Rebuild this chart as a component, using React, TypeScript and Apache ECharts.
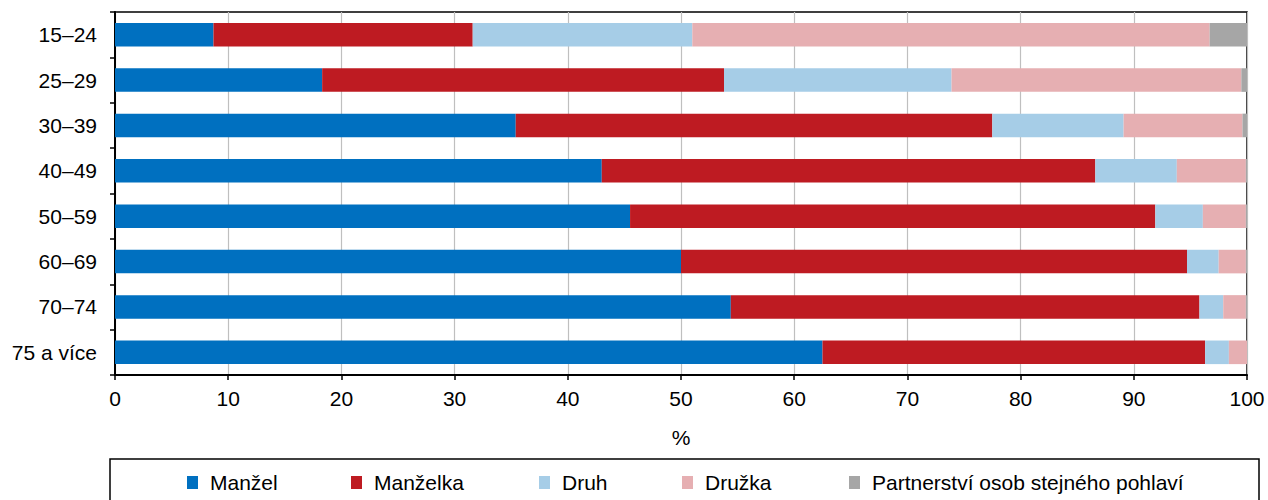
import React, { useEffect, useRef } from "react";
import * as echarts from "echarts";

const categories = ["15–24", "25–29", "30–39", "40–49", "50–59", "60–69", "70–74", "75 a více"];
const seriesNames = ["Manžel", "Manželka", "Druh", "Družka", "Partnerství osob stejného pohlaví"];
const manzel = [8.7, 18.3, 35.4, 43.0, 45.5, 50.0, 54.4, 62.5];
const manzelka = [22.9, 35.5, 42.1, 43.6, 46.4, 44.7, 41.4, 33.8];
const druh = [19.4, 20.1, 11.6, 7.2, 4.2, 2.8, 2.1, 2.1];
const druzka = [45.7, 25.6, 10.5, 6.1, 3.8, 2.4, 2.0, 1.6];
const partnerstvi = [3.3, 0.5, 0.4, 0.1, 0.1, 0.1, 0.1, 0.0];
const xTicks = [0, 10, 20, 30, 40, 50, 60, 70, 80, 90, 100];
const colors = ["#0070C0", "#BE1B22", "#A6CDE7", "#E6AFB2", "#A6A6A6"];
const legendLefts = [187, 351, 539, 682, 849];

const FONT = "'Liberation Sans', Arial, sans-serif";
const FS = 21;

export default function App() {
  const ref = useRef<HTMLDivElement>(null);
  useEffect(() => {
    if (!ref.current) return;
    const chart = echarts.init(ref.current, undefined, { renderer: "svg" });
    const values = [manzel, manzelka, druh, druzka, partnerstvi];
    chart.setOption({
      animation: false,
      textStyle: { fontFamily: FONT },
      grid: {
        left: 115,
        right: 21,
        top: 12,
        bottom: 125,
        show: true,
        borderColor: "#000",
        borderWidth: 1.5,
        backgroundColor: "transparent",
      },
      xAxis: {
        type: "value",
        min: xTicks[0],
        max: xTicks[xTicks.length - 1],
        interval: 10,
        name: "%",
        nameLocation: "middle",
        nameGap: 52,
        nameTextStyle: { fontSize: FS, color: "#000", fontFamily: FONT },
        axisLine: { show: true, lineStyle: { color: "#000", width: 2 } },
        axisTick: { show: true, length: 5, lineStyle: { color: "#000", width: 1.5 } },
        axisLabel: { fontSize: FS, color: "#000", margin: 13, fontFamily: FONT },
        splitLine: { show: true, lineStyle: { color: "#BFBFBF", width: 1.2 } },
      },
      yAxis: {
        type: "category",
        data: categories,
        inverse: true,
        axisLine: { show: true, lineStyle: { color: "#000", width: 2 } },
        axisTick: { show: true, length: 5, lineStyle: { color: "#000", width: 1.5 } },
        axisLabel: { fontSize: FS, color: "#000", margin: 18, fontFamily: FONT },
        splitLine: { show: false },
      },
      legend: seriesNames.map((name, i) => ({
        data: [name],
        left: legendLefts[i],
        top: 472,
        padding: 0,
        orient: "horizontal",
        icon: "rect",
        itemWidth: 11,
        itemHeight: 13,
        selectedMode: false,
        textStyle: { fontSize: FS, color: "#000", fontFamily: FONT, padding: [0, 0, 0, 7] },
      })),
      graphic: [
        {
          type: "rect",
          shape: { x: 110, y: 459, width: 1149, height: 60 },
          style: { fill: "none", stroke: "#000", lineWidth: 1.5 },
          silent: true,
        },
      ],
      series: seriesNames.map((name, i) => ({
        name,
        type: "bar",
        stack: "total",
        data: values[i],
        barCategoryGap: "48%",
        itemStyle: { color: colors[i] },
        emphasis: { disabled: true },
      })),
    });
    return () => chart.dispose();
  }, []);
  return (
    <div
      ref={ref}
      style={{ position: "fixed", left: 0, top: 0, width: 1268, height: 500, background: "#fff" }}
    />
  );
}
